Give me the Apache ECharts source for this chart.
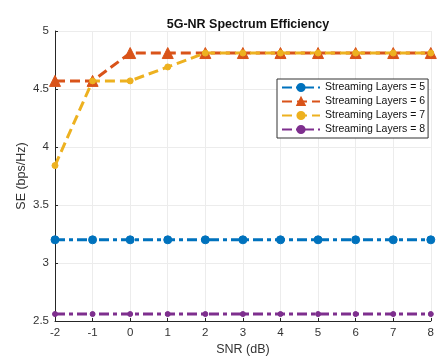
<!DOCTYPE html>
<html>
<head>
<meta charset="utf-8">
<script src="https://cdn.jsdelivr.net/npm/echarts@6/dist/echarts.min.js"></script>
<style>
  html, body { margin: 0; padding: 0; background: #fff; }
  #chart { width: 437px; height: 361px; }
</style>
</head>
<body>
<div id="chart"></div>
<script>
// SNR sweep (dB) and spectral efficiency per streaming-layer setting
const snr = [-2, -1, 0, 1, 2, 3, 4, 5, 6, 7, 8];
const seLayers5 = [3.2, 3.2, 3.2, 3.2, 3.2, 3.2, 3.2, 3.2, 3.2, 3.2, 3.2];
const seLayers6 = [4.57, 4.57, 4.81, 4.81, 4.81, 4.81, 4.81, 4.81, 4.81, 4.81, 4.81];
const seLayers7 = [3.84, 4.57, 4.57, 4.69, 4.81, 4.81, 4.81, 4.81, 4.81, 4.81, 4.81];
const seLayers8 = [2.56, 2.56, 2.56, 2.56, 2.56, 2.56, 2.56, 2.56, 2.56, 2.56, 2.56];
const seriesNames = ['Streaming Layers = 5', 'Streaming Layers = 6', 'Streaming Layers = 7', 'Streaming Layers = 8'];

const pairs = vals => snr.map((x, i) => [x, vals[i]]);

const textColor = '#333333';
const font = 'Liberation Sans, Arial, sans-serif';

function lineSeries(name, vals, color, dash, symbol, symbolSize) {
  return {
    name: name,
    type: 'line',
    data: pairs(vals),
    symbol: symbol,
    symbolSize: symbolSize,
    showAllSymbol: true,
    lineStyle: { color: color, width: 3, type: dash },
    itemStyle: { color: color, borderColor: color, borderWidth: 1 },
    emphasis: { disabled: true },
    animation: false
  };
}

const chart = echarts.init(document.getElementById('chart'), null, { renderer: 'canvas' });
chart.setOption({
  backgroundColor: '#fff',
  animation: false,
  title: {
    text: '5G-NR Spectrum Efficiency',
    left: 243, top: 13, textAlign: 'center',
    textStyle: { fontFamily: font, fontSize: 12.5, fontWeight: 'bold', color: '#111' }
  },
  grid: { left: 55, right: 5, top: 31, bottom: 35, containLabel: false },
  legend: {
    orient: 'vertical',
    left: 277, top: 79,
    width: 141,
    padding: [3, 3, 3, 4],
    itemGap: 3,
    itemWidth: 38, itemHeight: 9,
    backgroundColor: '#fff',
    borderColor: '#333', borderWidth: 1, borderRadius: 0,
    textStyle: { fontFamily: font, fontSize: 10.5, color: '#111' },
    data: seriesNames
  },
  xAxis: {
    type: 'value', min: -2, max: 8, interval: 1,
    name: 'SNR (dB)', nameLocation: 'middle', nameGap: 22,
    nameMoveOverlap: false,
    nameTextStyle: { fontFamily: font, fontSize: 12.5, color: textColor },
    axisLine: { show: true, onZero: false, lineStyle: { color: '#262626', width: 1 } },
    axisTick: { show: true, inside: true, length: 3, lineStyle: { color: '#262626' } },
    axisLabel: { fontFamily: font, fontSize: 11.5, color: textColor, margin: 6 },
    splitLine: { show: true, lineStyle: { color: '#ececec', width: 1 } }
  },
  yAxis: {
    type: 'value', min: 2.5, max: 5, interval: 0.5,
    name: 'SE (bps/Hz)', nameLocation: 'middle', nameGap: 27,
    nameMoveOverlap: false,
    nameTextStyle: { fontFamily: font, fontSize: 12.5, color: textColor },
    axisLine: { show: true, onZero: false, lineStyle: { color: '#262626', width: 1 } },
    axisTick: { show: true, inside: true, length: 3, lineStyle: { color: '#262626' } },
    axisLabel: { fontFamily: font, fontSize: 11.5, color: textColor, margin: 6 },
    splitLine: { show: true, lineStyle: { color: '#ececec', width: 1 } }
  },
  series: [
    lineSeries(seriesNames[0], seLayers5, '#0072BD', [10, 4, 4, 4], 'circle', 8),
    lineSeries(seriesNames[1], seLayers6, '#D95319', [10, 5], 'triangle', 11),
    lineSeries(seriesNames[2], seLayers7, '#EDB120', [10, 5], 'circle', 6),
    lineSeries(seriesNames[3], seLayers8, '#7E2F8E', [10, 4, 4, 4], 'circle', 5)
  ]
});
</script>
</body>
</html>
